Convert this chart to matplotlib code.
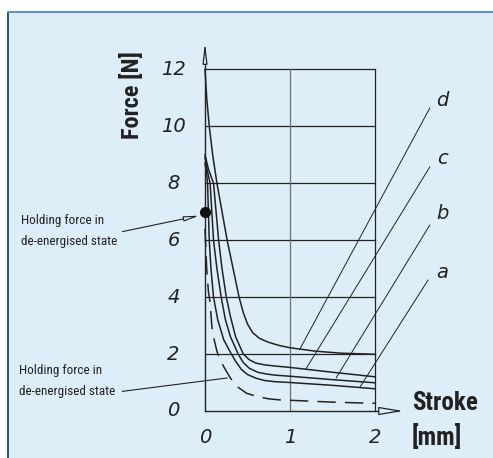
import matplotlib
matplotlib.use("Agg")
import matplotlib.pyplot as plt
from matplotlib.patches import Rectangle
from matplotlib.lines import Line2D
from matplotlib import font_manager

# ---- data ----
curve_d_x = [0.0, 0.02, 0.05, 0.09, 0.14, 0.20, 0.26, 0.33, 0.40, 0.45, 0.50, 0.56, 0.64, 0.74, 0.86, 1.0, 1.3, 1.6, 2.0]
curve_d_y = [12.0, 11.0, 10.0, 9.0, 8.0, 7.0, 6.0, 5.0, 4.0, 3.45, 3.05, 2.75, 2.55, 2.42, 2.31, 2.22, 2.10, 2.03, 1.99]
curve_c_x = [0.0, 0.04, 0.10, 0.13, 0.16, 0.20, 0.25, 0.30, 0.36, 0.45, 0.52, 0.60, 0.70, 0.82, 1.0, 1.5, 2.0]
curve_c_y = [9.0, 8.5, 8.0, 7.0, 6.0, 5.0, 4.0, 3.3, 2.6, 2.0, 1.80, 1.68, 1.62, 1.58, 1.53, 1.36, 1.20]
curve_b_x = [0.0, 0.03, 0.06, 0.08, 0.10, 0.14, 0.19, 0.24, 0.30, 0.39, 0.45, 0.52, 0.62, 0.72, 0.82, 1.0, 1.5, 2.0]
curve_b_y = [8.9, 8.4, 8.0, 7.0, 6.0, 5.0, 4.0, 3.2, 2.6, 2.0, 1.70, 1.50, 1.36, 1.30, 1.26, 1.22, 1.10, 0.99]
curve_a_x = [0.0, 0.02, 0.03, 0.04, 0.05, 0.07, 0.10, 0.15, 0.22, 0.31, 0.37, 0.43, 0.50, 0.60, 0.70, 0.82, 1.0, 1.5, 2.0]
curve_a_y = [8.7, 8.3, 8.0, 7.0, 6.0, 5.0, 4.0, 3.2, 2.5, 2.0, 1.70, 1.45, 1.28, 1.15, 1.07, 1.03, 1.00, 0.90, 0.78]
dashed_x = [0.0, 0.01, 0.02, 0.04, 0.06, 0.08, 0.10, 0.14, 0.17, 0.23, 0.30, 0.38, 0.49, 0.60, 0.74, 0.88, 1.13, 1.5, 2.0]
dashed_y = [6.4, 5.7, 5.0, 4.2, 3.8, 3.0, 2.6, 2.1, 1.85, 1.5, 1.15, 0.85, 0.62, 0.52, 0.43, 0.39, 0.36, 0.31, 0.27]

curve_labels = ["d", "c", "b", "a"]
label_pos_y = [10.92, 8.88, 6.95, 4.87]
leader_top = [(2.64, 10.64), (2.64, 8.57), (2.64, 6.53), (2.62, 4.60)]
leader_bottom = [(1.115, 2.18), (1.185, 1.475), (1.54, 1.16), (1.82, 0.84)]

x_ticks = [0, 1, 2]
y_ticks = [0, 2, 4, 6, 8, 10, 12]
holding_point = (0.0, 7.0)

BG = "#deeef9"
INK = "#222222"

names = {f.name for f in font_manager.fontManager.ttflist}
NARROW = ("Liberation Sans Narrow" if "Liberation Sans Narrow" in names
          else "Roboto Condensed" if "Roboto Condensed" in names else "DejaVu Sans")

W, H = 493, 458
fig = plt.figure(figsize=(W / 100, H / 100), dpi=100, facecolor="white")

# panel background and border
fig.patches.append(Rectangle((8 / W, 0), 1 - 8 / W, 1 - 12 / H, transform=fig.transFigure,
                             facecolor=BG, edgecolor="none", zorder=-10))
fig.lines.append(Line2D([8 / W, 8 / W], [0, 1 - 12 / H], transform=fig.transFigure,
                        color="#1f4f9f", lw=1.4, zorder=-5))
fig.lines.append(Line2D([8 / W, 1], [1 - 12 / H, 1 - 12 / H], transform=fig.transFigure,
                        color="#5b8fd0", lw=1.4, zorder=-5))

ax = fig.add_axes([205 / W, (H - 411) / H, 170.3 / W, 341.7 / H])
ax.set_facecolor("none")
ax.set_xlim(0, 2)
ax.set_ylim(0, 12)
for s in ax.spines.values():
    s.set_visible(False)

# grid / box
for yv in y_ticks[1:]:
    ax.plot([0, 2], [yv, yv], color=INK, lw=0.9, clip_on=False, zorder=1)
ax.plot([1, 1], [0, 12], color="#6f6f6f", lw=0.9, clip_on=False, zorder=1)
ax.plot([2, 2], [0, 12], color=INK, lw=0.9, clip_on=False, zorder=1)

# axes with hollow arrows
ax.plot([0, 0], [0, 12.4], color=INK, lw=1.0, clip_on=False, zorder=3)
ax.plot([0, 2.1], [0, 0], color=INK, lw=1.0, clip_on=False, zorder=3)
ax.annotate("", xy=(0, 12.95), xytext=(0, 12.2), annotation_clip=False,
            arrowprops=dict(arrowstyle="-|>,head_length=1.2,head_width=0.14",
                            fc=BG, ec=INK, lw=0.9, shrinkA=0, shrinkB=0))
ax.annotate("", xy=(2.33, 0), xytext=(2.05, 0), annotation_clip=False,
            arrowprops=dict(arrowstyle="-|>,head_length=1.5,head_width=0.25",
                            fc=BG, ec=INK, lw=0.9, shrinkA=0, shrinkB=0))

# ticks
ax.set_xticks([])
ax.set_yticks([])
tick_font = dict(fontsize=14, style="italic", color=INK, family="DejaVu Sans", fontweight="light")
for yv in y_ticks:
    ax.text(-0.37, yv, str(yv), ha="center", va="center", clip_on=False, **tick_font)
for xv in x_ticks:
    ax.text(xv, -0.93, str(xv), ha="center", va="center", clip_on=False, **tick_font)

# curves
for xs, ys in [(curve_d_x, curve_d_y), (curve_c_x, curve_c_y),
               (curve_b_x, curve_b_y), (curve_a_x, curve_a_y)]:
    ax.plot(xs, ys, color=INK, lw=1.1, clip_on=False, zorder=4, solid_joinstyle="round")
ax.plot(dashed_x, dashed_y, color=INK, lw=1.1, clip_on=False, zorder=4,
        linestyle=(0, (12, 6)))

# curve labels with leaders
for lab, ly, top, bot in zip(curve_labels, label_pos_y, leader_top, leader_bottom):
    ax.plot([top[0], bot[0]], [top[1], bot[1]], color=INK, lw=0.7, clip_on=False, zorder=2)
    ax.text(2.79, ly, lab, ha="center", va="center", clip_on=False, **tick_font)

# holding force annotations
narrow = [NARROW, "DejaVu Sans"]
ax.plot([holding_point[0]], [holding_point[1]], "o", color="#111111", ms=7, clip_on=False, zorder=6)
ax.annotate("", xy=(-0.07, 6.86), xytext=(-0.97, 6.30), annotation_clip=False,
            arrowprops=dict(arrowstyle="-|>,head_length=0.9,head_width=0.15",
                            fc=BG, ec=INK, lw=0.8, shrinkA=0, shrinkB=0))
ax.text(-2.16, 6.32, "Holding force in\nde-energised state", ha="left", va="center",
        fontsize=9.5, family=narrow, color=INK, linespacing=1.85, clip_on=False)
ax.plot([-0.97, 0.26], [0.69, 1.16], color=INK, lw=0.8, clip_on=False, zorder=2)
ax.text(-2.18, 1.05, "Holding force in\nde-energised state", ha="left", va="center",
        fontsize=9.5, family=narrow, color=INK, linespacing=1.85, clip_on=False)

# axis titles
ax.text(-0.86, 11.1, "Force [N]", rotation=90, ha="center", va="center", fontsize=17.5,
        fontweight="bold", family=narrow, color=INK, clip_on=False)
ax.text(2.43, 0.28, "Stroke", ha="left", va="center", fontsize=18,
        fontweight="bold", family=narrow, color=INK, clip_on=False)
ax.text(2.43, -0.91, "[mm]", ha="left", va="center", fontsize=18,
        fontweight="bold", family=narrow, color=INK, clip_on=False)

fig.savefig("out.png", dpi=100, facecolor="white")
